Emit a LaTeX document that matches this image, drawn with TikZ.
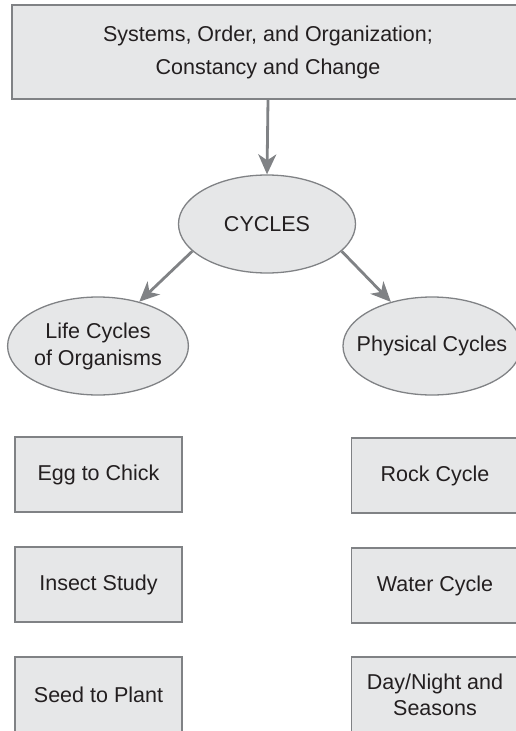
\documentclass[tikz,border=0pt]{standalone}
\usepackage{fontspec}
\setmainfont{Liberation Sans}
\usetikzlibrary{arrows.meta,shapes.geometric}

\definecolor{boxfill}{HTML}{E6E7E8}
\definecolor{boxline}{HTML}{808285}
\definecolor{ink}{HTML}{231F20}

\tikzset{
  box/.style={draw=boxline, line width=1.6pt, fill=boxfill, text=ink,
    minimum width=167pt, minimum height=75pt, inner sep=0pt, align=center,
    font=\fontsize{21.5}{26}\selectfont},
  bubble/.style={ellipse, draw=boxline, line width=1.3pt, fill=boxfill, text=ink,
    minimum width=178pt, minimum height=98pt, inner sep=0pt, align=center,
    font=\fontsize{21.5}{27}\selectfont},
  link/.style={draw=boxline, line width=2.8pt,
    -{Stealth[length=20pt,width=18pt,inset=6pt]}}
}

\begin{document}
\begin{tikzpicture}[x=1pt,y=-1pt]
    \useasboundingbox (0,0) rectangle (516,731);
    \clip (0,0) rectangle (516,731);
    % Top box
    \node[box, minimum width=512pt, minimum height=94pt,
      font=\fontsize{21.5}{33}\selectfont] (theme) at (268,52)
      {Systems, Order, and Organization;\\Constancy and Change};
    % Ellipses
    \node[bubble, minimum width=177pt] (cycles) at (267,224) {CYCLES};
    \node[bubble] (life) at (98,346) {Life Cycles\\of Organisms};
    \node[bubble, inner xsep=-13pt] (phys) at (432,346) {Physical Cycles};
    % Left column
    \node[box] (egg) at (98.5,474.5) {Egg to Chick};
    \node[box] (insect) at (98.5,584.5) {Insect Study};
    \node[box] (seed) at (98.5,694.5) {Seed to Plant};
    % Right column
    \node[box] (rock) at (435,475.5) {Rock Cycle};
    \node[box] (water) at (435,585.5) {Water Cycle};
    \node[box] (day) at (435,694.5) {Day/Night and\\Seasons};
    % Arrows
    \draw[link] (theme.south) -- (cycles.north);
    \draw[link] (cycles.200) -- (life.47);
    \draw[link] (cycles.340) -- (phys.133);
  \end{tikzpicture}
\end{document}
